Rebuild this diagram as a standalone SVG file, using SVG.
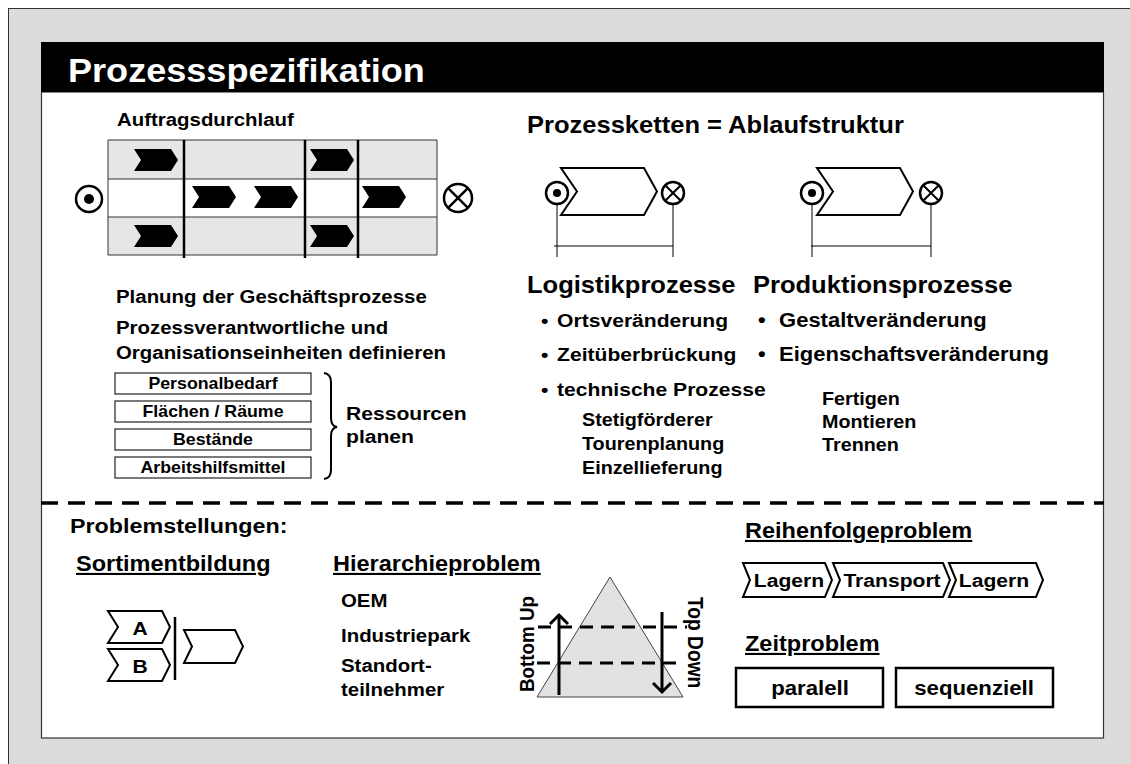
<svg xmlns="http://www.w3.org/2000/svg" width="1130" height="764" viewBox="0 0 1130 764">
<style>
  text{font-family:"Liberation Sans",Arial,Helvetica,sans-serif;font-weight:bold;fill:#000}
  .ttl{font-size:32.5px;fill:#fff}
  .h18{font-size:18.4px}
  .h22{font-size:23px}
  .h21{font-size:21px}
  .sub{font-size:21.2px;text-decoration:underline}
  .bul{font-size:19px}
  .bul2{font-size:19.8px}
  .sm{font-size:17.8px}
  .box{font-size:16px}
  .lbl{font-size:19px}
  .mid{text-anchor:middle}
  .thin{stroke:#000;stroke-width:1;fill:none}
  .step{fill:#fff;stroke:#000;stroke-width:2;stroke-linejoin:miter}
  .res{fill:#fff;stroke:#222;stroke-width:1.2}
  .cell{stroke:#333;stroke-width:1}
  .div{stroke:#000;stroke-width:2.5}
  .sym{fill:#fff;stroke:#000;stroke-width:2.5}
  .dash{stroke:#000;fill:none}
  .arrow{stroke:#000;stroke-width:3;fill:none}
</style>
<defs>
  <path id="chev" d="M0 0H37L44 11L37 22H0L7 11Z" fill="#000"/>
</defs>

<!-- page background and frame -->
<rect x="0" y="0" width="1130" height="764" fill="#fff"/>
<rect x="8.5" y="8.5" width="1200" height="800" fill="#dcdcdc" stroke="#333" stroke-width="1"/>
<rect x="41.5" y="92" width="1062" height="646" fill="#fff" stroke="#333" stroke-width="1.2"/>

<g id="header">
  <rect x="41" y="42" width="1063" height="50" fill="#000"/>
  <text class="ttl" transform="matrix(1.11 0 0 1 68 82)">Prozessspezifikation</text>
</g>

<g id="connectors">
  <!-- process chain extents -->
  <line class="thin" x1="557" y1="193" x2="557" y2="257"/>
  <line class="thin" x1="673" y1="193" x2="673" y2="257"/>
  <line class="thin" x1="554" y1="246" x2="673" y2="246"/>
  <line class="thin" x1="812" y1="193" x2="812" y2="257"/>
  <line class="thin" x1="931" y1="193" x2="931" y2="257"/>
  <line class="thin" x1="811" y1="246" x2="931" y2="246"/>
</g>

<g id="auftragsdurchlauf">
  <text class="h18" font-size="17.7px" transform="matrix(1.11 0 0 1 117 126)">Auftragsdurchlauf</text>
  <rect x="108" y="140" width="329" height="39" fill="#e6e6e6"/>
  <rect x="108" y="179" width="329" height="38" fill="#fff"/>
  <rect x="108" y="217" width="329" height="38" fill="#e6e6e6"/>
  <g class="cell">
    <line x1="108" y1="140" x2="437" y2="140"/>
    <line x1="108" y1="179" x2="437" y2="179"/>
    <line x1="108" y1="217" x2="437" y2="217"/>
    <line x1="108" y1="255" x2="437" y2="255"/>
    <line x1="108" y1="140" x2="108" y2="255"/>
    <line x1="437" y1="140" x2="437" y2="255"/>
  </g>
  <g class="div">
    <line x1="184" y1="140" x2="184" y2="258"/>
    <line x1="305" y1="140" x2="305" y2="258"/>
    <line x1="358" y1="140" x2="358" y2="258"/>
  </g>
  <use href="#chev" x="134" y="149"/>
  <use href="#chev" x="310" y="149"/>
  <use href="#chev" x="192" y="186"/>
  <use href="#chev" x="254" y="186"/>
  <use href="#chev" x="362" y="186"/>
  <use href="#chev" x="134" y="225"/>
  <use href="#chev" x="310" y="225"/>
  <circle class="sym" cx="89" cy="199" r="13"/>
  <circle cx="89" cy="199" r="5" fill="#000"/>
  <circle class="sym" cx="458" cy="198" r="14"/>
  <path d="M448.1 188.1L467.9 207.9M467.9 188.1L448.1 207.9" stroke="#000" stroke-width="2.5"/>
</g>

<g id="planung">
  <text class="h18" transform="matrix(1.11 0 0 1 116 303)">Planung der Geschäftsprozesse</text>
  <text class="h18" transform="matrix(1.11 0 0 1 116 334)">Prozessverantwortliche und</text>
  <text class="h18" transform="matrix(1.11 0 0 1 116 359)">Organisationseinheiten definieren</text>
</g>

<g id="ressourcen">
  <rect class="res" x="115" y="373" width="196" height="21"/>
  <rect class="res" x="115" y="401" width="196" height="21"/>
  <rect class="res" x="115" y="429" width="196" height="21"/>
  <rect class="res" x="115" y="457" width="196" height="21"/>
  <text class="box mid" transform="matrix(1.11 0 0 1 213 389)">Personalbedarf</text>
  <text class="box mid" transform="matrix(1.11 0 0 1 213 417)">Flächen / Räume</text>
  <text class="box mid" transform="matrix(1.11 0 0 1 213 445)">Bestände</text>
  <text class="box mid" transform="matrix(1.11 0 0 1 213 473)">Arbeitshilfsmittel</text>
  <path d="M324 373Q331 374 331 382V418Q331 426 337 427Q331 428 331 436V470Q331 478 324 479" fill="none" stroke="#000" stroke-width="2"/>
  <text class="lbl" transform="matrix(1.11 0 0 1 346 420)">Ressourcen</text>
  <text class="lbl" transform="matrix(1.11 0 0 1 346 443)">planen</text>
</g>

<g id="prozessketten">
  <text class="h22" font-size="23.2px" transform="matrix(1.11 0 0 1 527 133)">Prozessketten = Ablaufstruktur</text>
  <path class="step" d="M561 168H644L657 191.5L644 215H561L577 191.5Z"/>
  <circle class="sym" cx="557" cy="193" r="11" stroke-width="2"/>
  <circle cx="557" cy="193" r="4" fill="#000"/>
  <circle class="sym" cx="673" cy="193" r="11" stroke-width="2"/>
  <path d="M665.2 185.2L680.8 200.8M680.8 185.2L665.2 200.8" stroke="#000" stroke-width="2"/>
  <path class="step" d="M817 168H900L913 191.5L900 215H817L833 191.5Z"/>
  <circle class="sym" cx="812" cy="193" r="11" stroke-width="2"/>
  <circle cx="812" cy="193" r="4" fill="#000"/>
  <circle class="sym" cx="931" cy="193" r="11" stroke-width="2"/>
  <path d="M923.2 185.2L938.8 200.8M938.8 185.2L923.2 200.8" stroke="#000" stroke-width="2"/>
</g>

<g id="logistik">
  <text class="h22" font-size="22.3px" transform="matrix(1.11 0 0 1 527 293)">Logistikprozesse</text>
  <text class="bul" transform="matrix(1.11 0 0 1 541 327)"><tspan x="0">•</tspan><tspan x="14.5">Ortsveränderung</tspan></text>
  <text class="bul" transform="matrix(1.11 0 0 1 541 361)"><tspan x="0">•</tspan><tspan x="14.5">Zeitüberbrückung</tspan></text>
  <text class="bul" transform="matrix(1.11 0 0 1 541 396)"><tspan x="0">•</tspan><tspan x="14.5">technische Prozesse</tspan></text>
  <text class="sm" transform="matrix(1.11 0 0 1 582 426)">Stetigförderer</text>
  <text class="sm" transform="matrix(1.11 0 0 1 582 450)">Tourenplanung</text>
  <text class="sm" transform="matrix(1.11 0 0 1 582 474)">Einzellieferung</text>
</g>

<g id="produktion">
  <text class="h22" transform="matrix(1.11 0 0 1 753 293)">Produktionsprozesse</text>
  <text class="bul2" transform="matrix(1.11 0 0 1 758 327)"><tspan x="0">•</tspan><tspan x="19">Gestaltveränderung</tspan></text>
  <text class="bul2" transform="matrix(1.11 0 0 1 758 361)"><tspan x="0">•</tspan><tspan x="19">Eigenschaftsveränderung</tspan></text>
  <text class="sm" transform="matrix(1.11 0 0 1 822 405)">Fertigen</text>
  <text class="sm" transform="matrix(1.11 0 0 1 822 428)">Montieren</text>
  <text class="sm" transform="matrix(1.11 0 0 1 822 451)">Trennen</text>
</g>

<g id="separator">
  <line class="dash" x1="41" y1="503" x2="1104" y2="503" stroke-width="3.5" stroke-dasharray="17 10"/>
</g>

<g id="problemstellungen">
  <text class="h21" transform="matrix(1.11 0 0 1 70 533)">Problemstellungen:</text>
</g>

<g id="sortiment">
  <text class="sub" transform="matrix(1.11 0 0 1 76 571)">Sortimentbildung</text>
  <path class="step" d="M108 611H162L170 627L162 643H108L118 627Z"/>
  <path class="step" d="M108 649H162L170 665L162 681H108L118 665Z"/>
  <text class="lbl mid" transform="matrix(1.11 0 0 1 140 635)">A</text>
  <text class="lbl mid" transform="matrix(1.11 0 0 1 140 673)">B</text>
  <line x1="175" y1="617" x2="175" y2="680" stroke="#000" stroke-width="2.5"/>
  <path class="step" d="M184 630H235L243 646.5L235 663H184L192 646.5Z"/>
</g>

<g id="hierarchie">
  <text class="sub" transform="matrix(1.11 0 0 1 333 571)">Hierarchieproblem</text>
  <text class="h18" font-size="18.7px" transform="matrix(1.11 0 0 1 341 607)">OEM</text>
  <text class="h18" font-size="18.7px" transform="matrix(1.11 0 0 1 341 642)">Industriepark</text>
  <text class="h18" font-size="18.7px" transform="matrix(1.11 0 0 1 341 672)">Standort-</text>
  <text class="h18" font-size="18.7px" transform="matrix(1.11 0 0 1 341 696)">teilnehmer</text>
  <polygon points="610,577 537,697 683,697" fill="#e2e2e2" stroke="#444" stroke-width="1"/>
  <line class="dash" x1="538" y1="627" x2="687" y2="627" stroke-width="3" stroke-dasharray="13 8"/>
  <line class="dash" x1="537" y1="663" x2="684" y2="663" stroke-width="3" stroke-dasharray="13 8"/>
  <path class="arrow" d="M559 695V615M550 624L559 615L568 624"/>
  <path class="arrow" d="M662 612V692M653 683L662 692L671 683"/>
  <text font-size="18.8px" transform="translate(534 692) scale(1.11 1) rotate(-90)">Bottom Up</text>
  <text font-size="19.2px" transform="translate(688 597) scale(1.11 1) rotate(90)">Top Down</text>
</g>

<g id="reihenfolge">
  <text class="sub" transform="matrix(1.11 0 0 1 745 538)">Reihenfolgeproblem</text>
  <path class="step" d="M743 563H825L832 580L825 597H743L750 580Z"/>
  <path class="step" d="M833 563H943L950 580L943 597H833L840 580Z"/>
  <path class="step" d="M949 563H1036L1043 580L1036 597H949L956 580Z"/>
  <text class="lbl mid" transform="matrix(1.11 0 0 1 789 587)">Lagern</text>
  <text class="lbl mid" transform="matrix(1.11 0 0 1 892 587)">Transport</text>
  <text class="lbl mid" transform="matrix(1.11 0 0 1 994 587)">Lagern</text>
</g>

<g id="zeitproblem">
  <text class="sub" transform="matrix(1.11 0 0 1 745 651)">Zeitproblem</text>
  <rect x="736" y="668" width="147" height="39" fill="#fff" stroke="#000" stroke-width="2.5"/>
  <rect x="896" y="668" width="157" height="39" fill="#fff" stroke="#000" stroke-width="2.5"/>
  <text class="mid" font-size="20px" transform="matrix(1.11 0 0 1 810 695)">paralell</text>
  <text class="mid" font-size="20px" transform="matrix(1.11 0 0 1 974 695)">sequenziell</text>
</g>
</svg>
